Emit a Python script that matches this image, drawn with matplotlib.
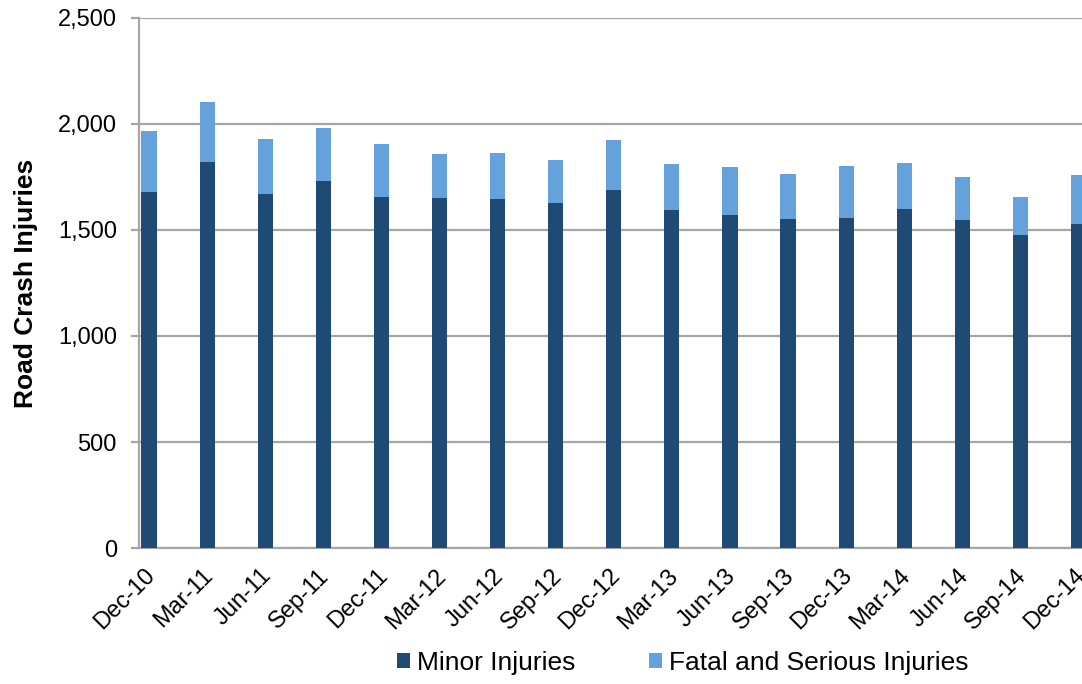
import matplotlib.pyplot as plt
import matplotlib.transforms as mtransforms
import numpy as np

plt.rcParams['font.family'] = ['Liberation Sans', 'DejaVu Sans']

quarters = ['Dec-10', 'Mar-11', 'Jun-11', 'Sep-11', 'Dec-11', 'Mar-12', 'Jun-12',
            'Sep-12', 'Dec-12', 'Mar-13', 'Jun-13', 'Sep-13', 'Dec-13', 'Mar-14',
            'Jun-14', 'Sep-14', 'Dec-14']
minor = [1678, 1822, 1671, 1730, 1654, 1652, 1648, 1627, 1690, 1594, 1572,
         1553, 1558, 1600, 1546, 1475, 1528]
total = [1966, 2104, 1928, 1980, 1906, 1860, 1863, 1830, 1925, 1810, 1796,
         1764, 1803, 1814, 1749, 1654, 1759]
fatal_serious = [t - m for t, m in zip(total, minor)]

dark = '#1f4a73'
light = '#65a2dc'
grid = '#a6a6a6'

fig = plt.figure(figsize=(10.82, 6.84), dpi=100)
ax = fig.add_axes([0.1285, 0.1988, 0.8715, 0.775])

x = np.arange(len(quarters))
w = 0.26
ax.bar(x, minor, width=w, color=dark, label='Minor Injuries', zorder=3)
ax.bar(x, fatal_serious, width=w, bottom=minor, color=light,
       label='Fatal and Serious Injuries', zorder=3)

ax.set_xlim(-0.172, 16.06)
ax.set_ylim(0, 2500)
ax.set_yticks(np.arange(0, 2501, 500))
ax.set_yticklabels([f'{v:,}' for v in range(0, 2501, 500)], fontsize=17)
ax.yaxis.grid(True, color=grid, linewidth=1.6, zorder=0)
ax.set_axisbelow(True)

ax.set_xticks(x)
ax.set_xticklabels(quarters, rotation=45, ha='right', va='top',
                   rotation_mode='anchor', fontsize=17)
ax.tick_params(axis='x', length=0, pad=12)
ax.tick_params(axis='y', length=6, width=1.6, color=grid, pad=10)

# nudge the rotated labels a little to the left
shift = mtransforms.ScaledTranslation(-5 / 100, 0, fig.dpi_scale_trans)
for lab in ax.get_xticklabels():
    lab.set_transform(lab.get_transform() + shift)

for s in ['top', 'right']:
    ax.spines[s].set_visible(False)
for s in ['left', 'bottom']:
    ax.spines[s].set_color(grid)
    ax.spines[s].set_linewidth(1.6)

ax.set_ylabel('Road Crash Injuries', fontsize=19, fontweight='bold', labelpad=14)

ax.legend(loc='center', bbox_to_anchor=(0.631, 0.031),
          ncol=2, frameon=False, fontsize=19, handlelength=0.5,
          handleheight=0.5, handletextpad=0.25, columnspacing=2.8,
          bbox_transform=fig.transFigure)

fig.savefig('out.png', dpi=100)
